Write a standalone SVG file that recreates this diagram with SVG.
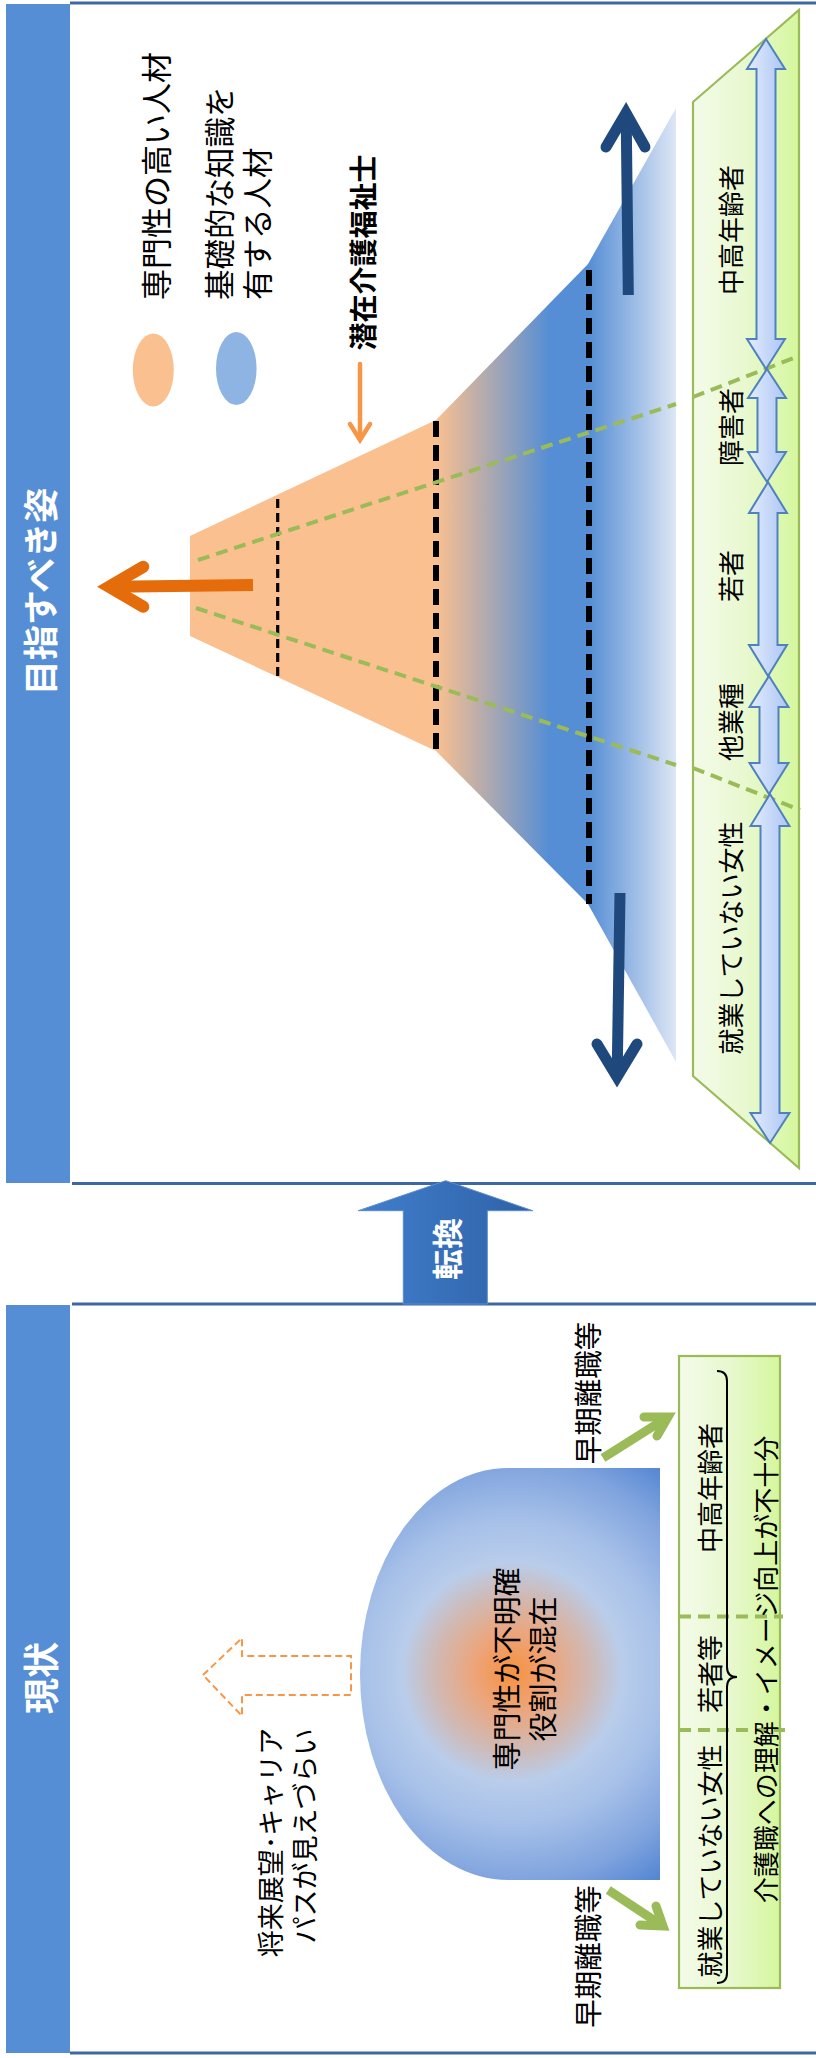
<svg xmlns="http://www.w3.org/2000/svg" width="816" height="2058" viewBox="0 0 816 2058">
<style>
  text { font-family: "Noto Sans CJK JP", "Noto Sans", sans-serif; fill: #000; dominant-baseline: central; }
  .title { fill: #fff; font-weight: bold; }
  .band { fill: #558ed5; }
  .pline { stroke: #3e68a4; stroke-width: 3.2; fill: none; }
  .green-dash { stroke: #9bbb59; stroke-width: 4; stroke-dasharray: 12 7; fill: none; }
  .blk-thick { stroke: #000; stroke-width: 6; stroke-dasharray: 16 8; fill: none; }
  .blk-thin { stroke: #000; stroke-width: 3.2; stroke-dasharray: 9 5; fill: none; }
  .darr { fill: url(#dblue); stroke: #4f81bd; stroke-width: 2; stroke-linejoin: miter; }
  .gbox { fill: url(#gfill); stroke: #9bbb59; stroke-width: 2.2; }
</style>
<defs>
  <linearGradient id="funnel" x1="0" y1="0" x2="1" y2="0">
    <stop offset="0" stop-color="#fac090"/>
    <stop offset="0.506" stop-color="#fac090"/>
    <stop offset="0.74" stop-color="#558ed5"/>
    <stop offset="0.82" stop-color="#558ed5"/>
    <stop offset="1" stop-color="#dde6f5"/>
  </linearGradient>
  <linearGradient id="gfill" x1="0" y1="0" x2="1" y2="0">
    <stop offset="0" stop-color="#f4fbea"/>
    <stop offset="0.5" stop-color="#e8f8cf"/>
    <stop offset="1" stop-color="#d5f79d"/>
  </linearGradient>
  <linearGradient id="dblue" x1="0" y1="0" x2="1" y2="0">
    <stop offset="0" stop-color="#e2ecfc"/>
    <stop offset="1" stop-color="#adc6f5"/>
  </linearGradient>
  <linearGradient id="conv" x1="0" y1="0" x2="1" y2="0">
    <stop offset="0" stop-color="#417ecd"/>
    <stop offset="1" stop-color="#2e62a6"/>
  </linearGradient>
  <radialGradient id="dome" gradientUnits="userSpaceOnUse" cx="512" cy="1672" r="262">
    <stop offset="0" stop-color="#f7913e"/>
    <stop offset="0.15" stop-color="#eca57c"/>
    <stop offset="0.3" stop-color="#cfbab6"/>
    <stop offset="0.42" stop-color="#b9cdeb"/>
    <stop offset="0.58" stop-color="#a6c0e8"/>
    <stop offset="0.8" stop-color="#7fa3de"/>
    <stop offset="1" stop-color="#4a80d0"/>
  </radialGradient>
</defs>

<!-- Panel frames -->
<g id="panel-top">
  <rect class="band" x="6" y="4" width="64" height="1179"/>
  <line class="pline" x1="70" y1="3" x2="816" y2="3"/>
  <line class="pline" x1="72" y1="1183.5" x2="816" y2="1183.5"/>
  <text class="title" font-size="35" transform="translate(38.5,591.5) rotate(-90)" text-anchor="middle">目指すべき姿</text>
</g>
<g id="panel-bottom">
  <rect class="band" x="6" y="1305" width="64" height="748"/>
  <line class="pline" x1="72" y1="1304" x2="816" y2="1304"/>
  <line class="pline" x1="70" y1="2053" x2="816" y2="2053"/>
  <text class="title" font-size="36" transform="translate(39,1678) rotate(-90)" text-anchor="middle">現状</text>
</g>

<!-- Legend -->
<g id="legend-expert">
  <ellipse cx="153.3" cy="370" rx="20.5" ry="36.5" fill="#fac090"/>
  <text font-size="31" transform="translate(154,300) rotate(-90)" text-anchor="start">専門性の高い人材</text>
</g>
<g id="legend-basic">
  <ellipse cx="236.3" cy="368.5" rx="20.3" ry="36.5" fill="#8eb4e3"/>
  <text font-size="30.5" transform="translate(218,300) rotate(-90)" text-anchor="start">基礎的な知識を</text>
  <text font-size="30.5" transform="translate(256,300) rotate(-90)" text-anchor="start">有する人材</text>
</g>
<g id="latent">
  <text font-size="28" font-weight="bold" transform="translate(362,252.5) rotate(-90)" text-anchor="middle">潜在介護福祉士</text>
</g>

<!-- Funnel -->
<g id="funnel-shape">
  <polygon points="190,536 436,420 588,264 676,108 676,1062 588,904 436,751 190,636" fill="url(#funnel)"/>
  <line class="blk-thin" x1="277.7" y1="499" x2="277.7" y2="676"/>
  <line class="blk-thick" x1="436" y1="421" x2="436" y2="751"/>
  <line class="blk-thick" x1="589" y1="270" x2="589" y2="904"/>
</g>

<!-- Target groups band -->
<g id="groups-band">
  <polygon class="gbox" points="693,102 799,10 799,1168 693,1076"/>
</g>
<g id="green-lines">
  <line class="green-dash" x1="198" y1="560" x2="676" y2="404"/>
  <line class="green-dash" x1="693" y1="397" x2="799" y2="356"/>
  <line class="green-dash" x1="196" y1="608" x2="676" y2="765"/>
  <line class="green-dash" x1="693" y1="768" x2="800" y2="810"/>
</g>
<g id="range-arrows">
  <path class="darr" d="M766,39 L785,69 L775.5,69 L775.5,339 L785,339 L766,369 L747,339 L756.5,339 L756.5,69 L747,69 Z"/>
  <path class="darr" d="M767,369 L786,398 L776.5,398 L776.5,452 L786,452 L767,482 L748,452 L757.5,452 L757.5,398 L748,398 Z"/>
  <path class="darr" d="M768,482 L787,513 L777.5,513 L777.5,645 L787,645 L768,676 L749,645 L758.5,645 L758.5,513 L749,513 Z"/>
  <path class="darr" d="M769,676 L788.5,707 L778.5,707 L778.5,763 L788.5,763 L769,794 L749.5,763 L759.5,763 L759.5,707 L749.5,707 Z"/>
  <path class="darr" d="M770,794 L789.5,826 L779.5,826 L779.5,1113 L789.5,1113 L770,1143 L750.5,1113 L760.5,1113 L760.5,826 L750.5,826 Z"/>
</g>
<g id="group-labels">
  <text font-size="26" transform="translate(729.5,230) rotate(-90)" text-anchor="middle">中高年齢者</text>
  <text font-size="26" transform="translate(729.5,427) rotate(-90)" text-anchor="middle">障害者</text>
  <text font-size="26" transform="translate(729.5,576) rotate(-90)" text-anchor="middle">若者</text>
  <text font-size="26" transform="translate(729.5,722) rotate(-90)" text-anchor="middle">他業種</text>
  <text font-size="26" transform="translate(729.5,938) rotate(-90)" text-anchor="middle">就業していない女性</text>
</g>

<!-- Conversion arrow -->
<g id="conversion">
  <path d="M445.7,1180.7 L532.7,1210.7 L487.3,1210.7 L487.3,1304 L403.3,1304 L403.3,1210.7 L358.3,1210.7 Z" fill="url(#conv)" stroke="#5b8bd0" stroke-width="1"/>
  <text class="title" font-size="31" transform="translate(445,1249) rotate(-90)" text-anchor="middle">転換</text>
</g>

<!-- Current state -->
<g id="dome">
  <path d="M660,1468 L508,1468 A148,206 0 0 0 508,1880 L660,1880 Z" fill="url(#dome)"/>
  <text font-size="29" transform="translate(505,1669) rotate(-90)" text-anchor="middle">専門性が不明確</text>
  <text font-size="29" transform="translate(540.5,1669) rotate(-90)" text-anchor="middle">役割が混在</text>
</g>
<g id="career">
  <path d="M203,1675 L242,1638 L242,1656 L351,1656 L351,1695 L242,1695 L242,1716 Z" fill="none" stroke="#f79646" stroke-width="2" stroke-dasharray="7 4"/>
  <text font-size="27" transform="translate(269,1842.5) rotate(-90)" text-anchor="middle">将来展望･キャリア</text>
  <text font-size="27" transform="translate(303.5,1836) rotate(-90)" text-anchor="middle">パスが見えづらい</text>
</g>
<g id="source-box">
  <rect class="gbox" x="679" y="1356" width="101" height="632"/>
  <line class="green-dash" x1="679" y1="1616.5" x2="783" y2="1616.5"/>
  <line class="green-dash" x1="679" y1="1730" x2="785" y2="1730"/>
  <path d="M717,1371 Q727,1371 727,1381 L727,1667 Q727,1677 737,1677 Q727,1677 727,1687 L727,1973 Q727,1983 717,1983" fill="none" stroke="#000" stroke-width="2"/>
  <text font-size="26" transform="translate(708,1488) rotate(-90)" text-anchor="middle">中高年齢者</text>
  <text font-size="26" transform="translate(708,1674) rotate(-90)" text-anchor="middle">若者等</text>
  <text font-size="26" transform="translate(708,1861) rotate(-90)" text-anchor="middle">就業していない女性</text>
  <text font-size="26" transform="translate(764,1669.5) rotate(-90)" text-anchor="middle">介護職への理解・イメージ向上が不十分</text>
</g>
<g id="early-leave-labels">
  <text font-size="28.5" transform="translate(586.5,1393) rotate(-90)" text-anchor="middle">早期離職等</text>
  <text font-size="28.5" transform="translate(586.5,1956.5) rotate(-90)" text-anchor="middle">早期離職等</text>
</g>

<!-- Connectors -->
<g id="connectors" fill="none">
  <!-- small orange arrow to latent -->
  <g stroke="#f79646" stroke-width="4.5" stroke-linecap="round" stroke-linejoin="miter">
    <line x1="360" y1="364" x2="360" y2="438"/>
    <path d="M350,424 L360,440 L370,424"/>
  </g>
  <!-- big orange arrow left -->
  <g stroke="#e46c0a" stroke-width="12" stroke-linejoin="miter">
    <line x1="253" y1="585" x2="114" y2="586.7" stroke-linecap="butt"/>
    <path d="M143.3,566.7 L109,586.7 L143.3,606.7" stroke-linecap="round"/>
  </g>
  <!-- dark blue up/down arrows -->
  <g stroke="#1f497d" stroke-width="11" stroke-linejoin="miter">
    <line x1="628.3" y1="295" x2="626.2" y2="118" stroke-linecap="butt"/>
    <path d="M606,147 L626,113 L645,147" stroke-linecap="round"/>
    <line x1="620" y1="893" x2="617.2" y2="1072" stroke-linecap="butt"/>
    <path d="M597,1044 L617,1077 L637,1044" stroke-linecap="round"/>
  </g>
  <!-- green early-leave arrows -->
  <g stroke="#9bbb59" stroke-width="9" stroke-linejoin="miter">
    <line x1="603" y1="1458" x2="664" y2="1419.5" stroke-linecap="butt"/>
    <path d="M644,1417 L668,1417 L657,1436" stroke-linecap="round"/>
    <line x1="608.3" y1="1890" x2="659" y2="1923.5" stroke-linecap="butt"/>
    <path d="M640,1925 L663,1926 L656,1906" stroke-linecap="round"/>
  </g>
</g>
</svg>
